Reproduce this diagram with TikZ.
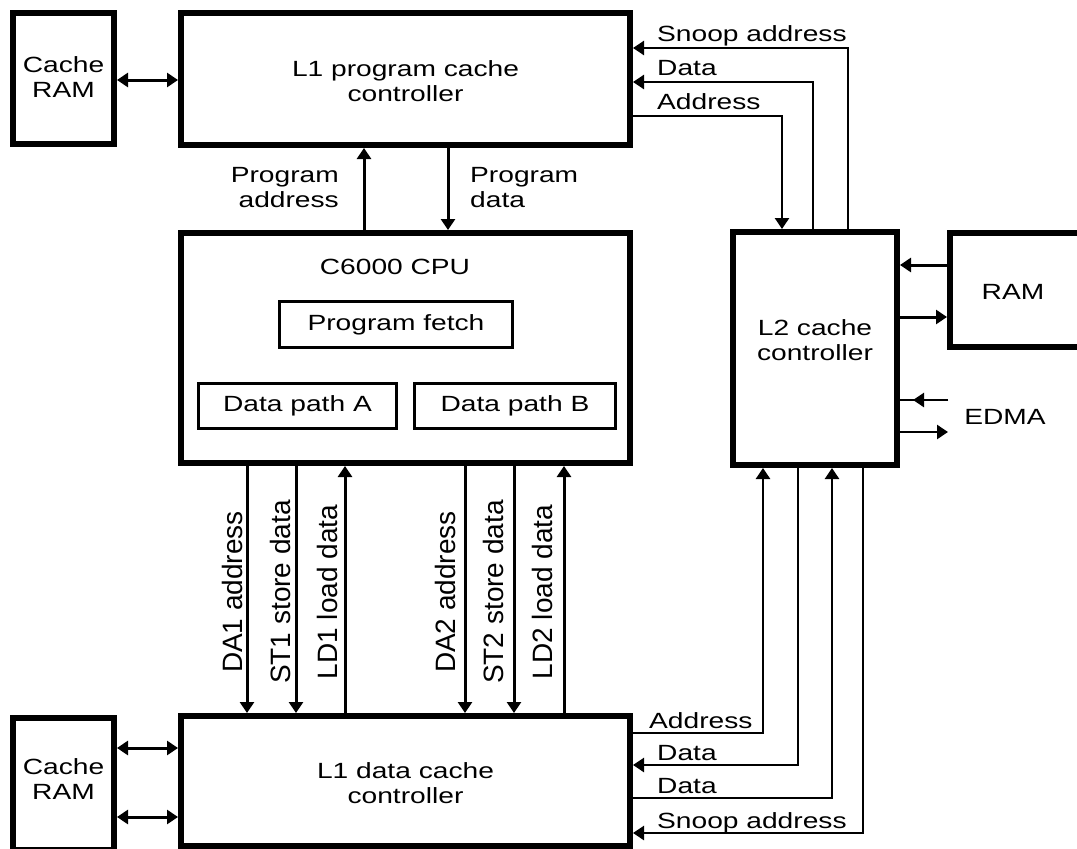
\documentclass[tikz,border=0pt]{standalone}
\usepackage{fontspec}
\setmainfont{Liberation Sans}[FakeStretch=1.28]
\newfontfamily\vfont{Liberation Sans}
\usetikzlibrary{arrows.meta}
\tikzset{
 bigbox/.style={draw, line width=6pt, inner sep=0pt, align=center, font=\fontsize{22}{24}\selectfont},
 smallbox/.style={draw, line width=3pt, inner sep=0pt, font=\fontsize{22}{24}\selectfont},
 lbl/.style={inner sep=0pt, font=\fontsize{22}{25}\selectfont},
 vlbl/.style={inner sep=0pt, rotate=90, font=\vfont\fontsize{28}{30}\selectfont},
 conn/.style={line width=3pt, ->},
 dbl/.style={line width=3pt, <->},
 l2conn/.style={line width=2.5pt, ->},
}
\begin{document}
\begin{tikzpicture}[x=1pt,y=-1pt, >={Triangle[length=11pt,width=14pt]}]
\useasboundingbox (0,0) rectangle (1077,849);
\clip (0,0) rectangle (1077,849);
% boxes
\node[bigbox, minimum width=101pt, minimum height=131pt] (crt) at (63.5,78.5) {};
\node[lbl, align=center] (crttxt) at (63.5,77) {Cache\\RAM};
\node[bigbox, minimum width=449pt, minimum height=132pt] (l1p) at (405.5,79) {};
\node[lbl, align=center] (l1ptxt) at (405.5,81) {L1 program cache\\controller};
\node[bigbox, minimum width=449pt, minimum height=230pt] (cpu) at (405.5,348) {};
\node[lbl] (cputxt) at (395,267) {C6000 CPU};
\node[smallbox, minimum width=233pt, minimum height=46pt] (fetch) at (396,324.5) {Program fetch};
\node[smallbox, minimum width=198pt, minimum height=45pt] (dpa) at (297.5,406) {Data path A};
\node[smallbox, minimum width=201pt, minimum height=45pt] (dpb) at (515,406) {Data path B};
\node[bigbox, minimum width=449pt, minimum height=130pt] (l1d) at (405.5,781) {};
\node[lbl, align=center] (l1dtxt) at (405.5,783) {L1 data cache\\controller};
\node[bigbox, minimum width=101pt, minimum height=132pt] (crb) at (63.5,784) {};
\node[lbl, align=center] (crbtxt) at (63.5,779) {Cache\\RAM};
\node[bigbox, minimum width=164pt, minimum height=233pt] (l2) at (815,348.5) {};
\node[lbl, align=center] (l2txt) at (815,340) {L2 cache\\controller};
\node[bigbox, minimum width=137pt, minimum height=114pt] (ram) at (1018.5,290) {};
\node[lbl] (ramtxt) at (1013,292) {RAM};

% cache RAM links
\coordinate (a1) at ([yshift=-1.5pt]crt.east);
\draw[dbl] (a1) -- (a1 -| l1p.west);
\coordinate (b1) at ([yshift=36pt]crb.east);
\coordinate (b2) at ([yshift=-33pt]crb.east);
\draw[dbl] (b1) -- (b1 -| l1d.west);
\draw[dbl] (b2) -- (b2 -| l1d.west);

% program bus
\draw[conn] ([xshift=-41.5pt]cpu.north) -- ([xshift=-41.5pt]l1p.south);
\draw[conn] ([xshift=42.5pt]l1p.south) -- ([xshift=42.5pt]cpu.north);
\node[lbl, anchor=east, align=right] (pal) at (339,188) {Program\\address};
\node[lbl, anchor=west, align=left] (pdl) at (470,188) {Program\\data};

% data buses
\draw[conn] ([xshift=-158.5pt]cpu.south) -- ([xshift=-158.5pt]l1d.north);
\draw[conn] ([xshift=-109.5pt]cpu.south) -- ([xshift=-109.5pt]l1d.north);
\draw[conn] ([xshift=-60.5pt]l1d.north) -- ([xshift=-60.5pt]cpu.south);
\draw[conn] ([xshift=59.5pt]cpu.south) -- ([xshift=59.5pt]l1d.north);
\draw[conn] ([xshift=108.5pt]cpu.south) -- ([xshift=108.5pt]l1d.north);
\draw[conn] ([xshift=158.5pt]l1d.north) -- ([xshift=158.5pt]cpu.south);
\node[vlbl] (da1) at (232,592) {DA1 address};
\node[vlbl] (st1) at (280,592) {ST1 store data};
\node[vlbl] (ld1) at (327,592) {LD1 load data};
\node[vlbl] (da2) at (445,592) {DA2 address};
\node[vlbl] (st2) at (493,592) {ST2 store data};
\node[vlbl] (ld2) at (542,592) {LD2 load data};

% L1P <-> L2
\draw[l2conn] ([xshift=33pt]l2.north) |- ([yshift=31pt]l1p.east);
\draw[l2conn] ([xshift=-2pt]l2.north) |- ([yshift=-3pt]l1p.east);
\draw[l2conn] ([yshift=-37pt]l1p.east) -| ([xshift=-33pt]l2.north);
\node[lbl, anchor=base west] (t1) at (657,41) {Snoop address};
\node[lbl, anchor=base west] (t2) at (657,75) {Data};
\node[lbl, anchor=base west] (t3) at (657,109) {Address};

% L1D <-> L2
\draw[l2conn] ([yshift=48pt]l1d.east) -| ([xshift=-52pt]l2.south);
\draw[l2conn] ([xshift=-17pt]l2.south) |- ([yshift=16pt]l1d.east);
\draw[l2conn] ([yshift=-17pt]l1d.east) -| ([xshift=17pt]l2.south);
\draw[l2conn] ([xshift=48pt]l2.south) |- ([yshift=-52pt]l1d.east);
\node[lbl, anchor=base west] (u1) at (649,728) {Address};
\node[lbl, anchor=base west] (u2) at (657,760) {Data};
\node[lbl, anchor=base west] (u3) at (657,793) {Data};
\node[lbl, anchor=base west] (u4) at (657,828) {Snoop address};

% RAM
\coordinate (r1) at ([yshift=25pt]ram.west);
\coordinate (r2) at ([yshift=-27pt]ram.west);
\draw[conn] (r1) -- (r1 -| l2.east);
\draw[conn] (r2 -| l2.east) -- (r2);

% EDMA
\coordinate (e1) at (948,400);
\coordinate (e2) at (948,432);
\draw[line width=2.5pt] (e1) -- (e1 -| l2.east);
\draw[l2conn] (e1) -- ++(-35,0);
\draw[l2conn] (e2 -| l2.east) -- (e2);
\node[lbl] (edma) at (1005,417) {EDMA};
\end{tikzpicture}
\end{document}
